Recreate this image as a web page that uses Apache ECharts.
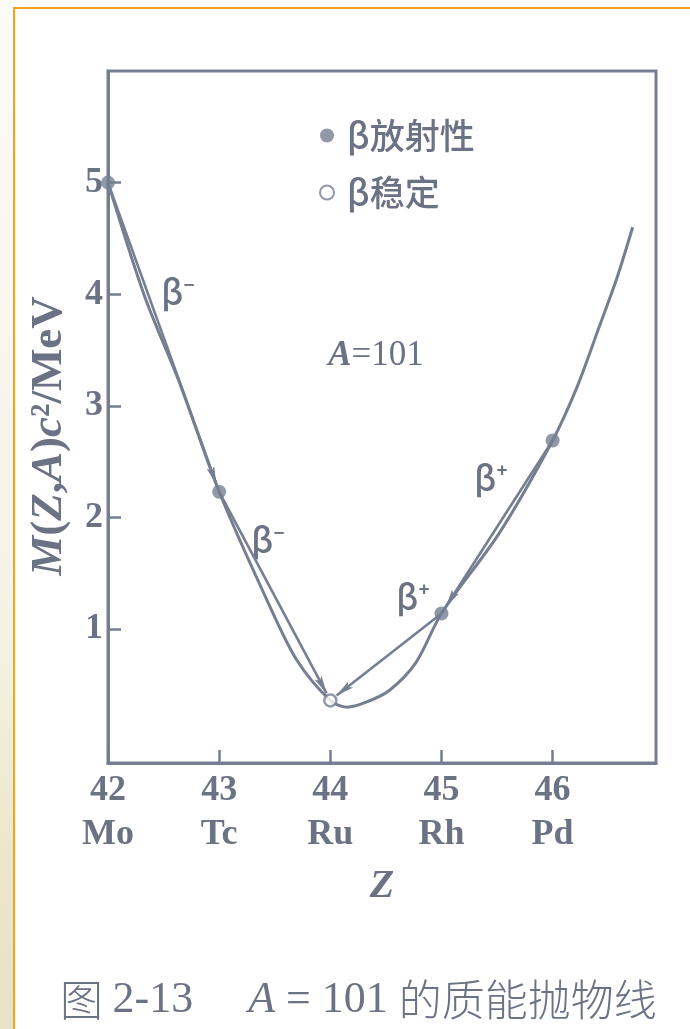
<!DOCTYPE html>
<html>
<head>
<meta charset="utf-8">
<script src="https://cdn.jsdelivr.net/npm/echarts@6/dist/echarts.min.js"></script>
<style>
  html, body { margin: 0; padding: 0; background: #ffffff; }
  #chart { width: 690px; height: 1029px; }
</style>
</head>
<body>
<div id="chart"></div>
<script>
// Isobars with A = 101: atomic number and element symbol
const zValues = [42, 43, 44, 45, 46];
const elements = ['Mo', 'Tc', 'Ru', 'Rh', 'Pd'];
// M(Z,A)c^2 of each isobar, MeV (relative)
const massEnergy = [5.0, 2.23, 0.36, 1.14, 2.69];
// index of the beta-stable isobar
const stableIndex = 2;
// tick values of the mass axis
const massTicks = [1, 2, 3, 4, 5];
// mass parabola through the isobars: [Z, M c^2]
const parabolaZ = [42, 42.33, 42.65, 43, 43.43, 43.70, 44, 44.15, 44.31, 44.53, 44.77, 45, 45.52, 46, 46.22, 46.42, 46.58, 46.72];
const parabolaM = [5.0, 3.98, 3.19, 2.23, 1.26, 0.72, 0.36, 0.30, 0.34, 0.45, 0.70, 1.14, 1.86, 2.69, 3.17, 3.71, 4.15, 4.60];
// decay steps as [parent index, daughter index]
const decaySteps = [[0, 1], [1, 2], [4, 3], [3, 2]];

const INK = '#767e91';
const TEXT = '#6b7284';
const TIMES = '"Liberation Serif", "DejaVu Serif", serif';
const SANS = '"Noto Sans CJK SC", "Noto Sans", sans-serif';

const radioactivePts = zValues.map((z, i) => [z, massEnergy[i]]).filter((_, i) => i !== stableIndex);
const stablePts = [[zValues[stableIndex], massEnergy[stableIndex]]];
const parabolaPts = parabolaZ.map((z, i) => [z, parabolaM[i]]);
const arrowData = decaySteps.map(([a, b]) => [zValues[a], massEnergy[a], zValues[b], massEnergy[b]]);

const chart = echarts.init(document.getElementById('chart'), null, { renderer: 'canvas' });

// straight decay arrow from parent to daughter, stopping short of the daughter's marker
function renderArrow(params, api) {
  const p1 = api.coord([api.value(0), api.value(1)]);
  const p2 = api.coord([api.value(2), api.value(3)]);
  const dx = p2[0] - p1[0], dy = p2[1] - p1[1];
  const len = Math.sqrt(dx * dx + dy * dy);
  const ux = dx / len, uy = dy / len;
  const gap = 8, headLen = 18, headHalf = 4;
  const tip = [p2[0] - ux * gap, p2[1] - uy * gap];
  const base = [tip[0] - ux * headLen, tip[1] - uy * headLen];
  return {
    type: 'group',
    children: [
      { type: 'line', shape: { x1: p1[0], y1: p1[1], x2: tip[0], y2: tip[1] },
        style: { stroke: INK, lineWidth: 2.6 } },
      { type: 'polygon', shape: { points: [tip,
          [base[0] - uy * headHalf, base[1] + ux * headHalf],
          [base[0] + ux * 4, base[1] + uy * 4],
          [base[0] + uy * headHalf, base[1] - ux * headHalf]] },
        style: { fill: INK } }
    ]
  };
}

const betaLabel = (x, y, text) => ({
  type: 'text', x, y, silent: true,
  style: { text, align: 'center', verticalAlign: 'middle', fontFamily: SANS,
           fontSize: 34, fontWeight: 500, fill: TEXT }
});

const option = {
  backgroundColor: '#ffffff',
  animation: false,
  grid: { left: 108, top: 71, width: 548, height: 692, show: true,
          borderColor: INK, borderWidth: 3, backgroundColor: 'transparent' },
  legend: {
    orient: 'vertical', left: 314, top: 113, itemGap: 22,
    itemWidth: 14, itemHeight: 14, icon: 'circle',
    data: ['β放射性', 'β稳定'],
    textStyle: { fontFamily: SANS, fontSize: 35, color: TEXT, fontWeight: 500,
                 padding: [0, 0, 0, 8] }
  },
  xAxis: {
    type: 'value', min: 42, max: 46.93,
    name: 'Z', nameLocation: 'middle', nameGap: 104,
    nameTextStyle: { fontFamily: TIMES, fontStyle: 'italic', fontWeight: 'bold', fontSize: 40, color: TEXT },
    axisLine: { show: true, onZero: false, lineStyle: { color: INK, width: 3 } },
    axisTick: { show: true, inside: true, length: 13, customValues: zValues,
                lineStyle: { color: INK, width: 2.5 } },
    axisLabel: {
      customValues: zValues, margin: 6, color: TEXT,
      formatter: v => '{n|' + v + '}\n{e|' + elements[zValues.indexOf(v)] + '}',
      rich: {
        n: { fontFamily: TIMES, fontWeight: 'bold', fontSize: 36, color: TEXT, lineHeight: 44 },
        e: { fontFamily: TIMES, fontWeight: 'bold', fontSize: 36, color: TEXT, lineHeight: 44 }
      }
    },
    splitLine: { show: false }
  },
  yAxis: {
    type: 'value', min: -0.2, max: 6.0,
    axisLine: { show: true, onZero: false, lineStyle: { color: INK, width: 3 } },
    axisTick: { show: true, inside: true, length: 13, customValues: massTicks,
                lineStyle: { color: INK, width: 2.5 } },
    axisLabel: { customValues: massTicks, margin: 5, color: TEXT,
                 fontFamily: TIMES, fontWeight: 'bold', fontSize: 36 },
    splitLine: { show: false }
  },
  series: [
    {
      name: 'parabola', type: 'line', data: parabolaPts, smooth: 0.3,
      symbol: 'none', lineStyle: { color: INK, width: 3 }, z: 2, silent: true
    },
    {
      name: 'decay', type: 'custom', renderItem: renderArrow, data: arrowData,
      encode: { x: [0, 2], y: [1, 3] }, z: 3, silent: true
    },
    {
      name: 'β放射性', type: 'scatter', data: radioactivePts, symbol: 'circle',
      symbolSize: 14, itemStyle: { color: INK }, z: 5
    },
    {
      name: 'β稳定', type: 'scatter', data: stablePts, symbol: 'circle',
      symbolSize: 12, itemStyle: { color: '#ffffff', borderColor: INK, borderWidth: 2.5 }, z: 5
    }
  ],
  graphic: [
    // page frame
    { type: 'rect', shape: { x: 0, y: 0, width: 13, height: 1029 }, silent: true, z: -10,
      style: { fill: new echarts.graphic.LinearGradient(0, 0, 0, 1, [
        { offset: 0, color: '#fbfbf7' }, { offset: 0.62, color: '#f5f2e4' },
        { offset: 0.85, color: '#ece5c8' }, { offset: 1, color: '#e9e3c6' }]) } },
    { type: 'rect', shape: { x: 13, y: 7, width: 2, height: 1022 }, silent: true,
      style: { fill: '#f6a21e' } },
    { type: 'rect', shape: { x: 13, y: 7, width: 677, height: 2 }, silent: true,
      style: { fill: '#f6a21e' } },
    // mass axis title
    { type: 'text', x: 49, y: 436, rotation: Math.PI / 2, silent: true,
      style: {
        text: '{i|M}{r|(}{i|Z}{r|,}{i|A}{r|)}{i|c}{r|²/MeV}',
        align: 'center', verticalAlign: 'middle',
        rich: {
          i: { fontFamily: TIMES, fontStyle: 'italic', fontWeight: 'bold', fontSize: 45, fill: TEXT },
          r: { fontFamily: TIMES, fontWeight: 'bold', fontSize: 45, fill: TEXT }
        }
      } },
    // mass number
    { type: 'text', x: 376, y: 356, silent: true,
      style: {
        text: '{i|A}{r|=101}', align: 'center', verticalAlign: 'middle',
        rich: {
          i: { fontFamily: TIMES, fontStyle: 'italic', fontWeight: 'bold', fontSize: 35, fill: TEXT },
          r: { fontFamily: TIMES, fontSize: 35, fill: TEXT }
        }
      } },
    // decay mode labels
    betaLabel(178, 292, 'β⁻'),
    betaLabel(268, 540, 'β⁻'),
    betaLabel(491, 478, 'β⁺'),
    betaLabel(413, 597, 'β⁺'),
    // figure caption
    { type: 'text', x: 60, y: 1000, silent: true,
      style: {
        text: '{c|图 }{n|2-13     }{i|A}{n| = 101 }{c|的质能抛物线}',
        verticalAlign: 'middle',
        rich: {
          c: { fontFamily: SANS, fontSize: 43, fontWeight: 300, fill: TEXT },
          n: { fontFamily: TIMES, fontSize: 44, fill: TEXT },
          i: { fontFamily: TIMES, fontStyle: 'italic', fontSize: 44, fill: TEXT }
        }
      } }
  ]
};

chart.setOption(option);
</script>
</body>
</html>
